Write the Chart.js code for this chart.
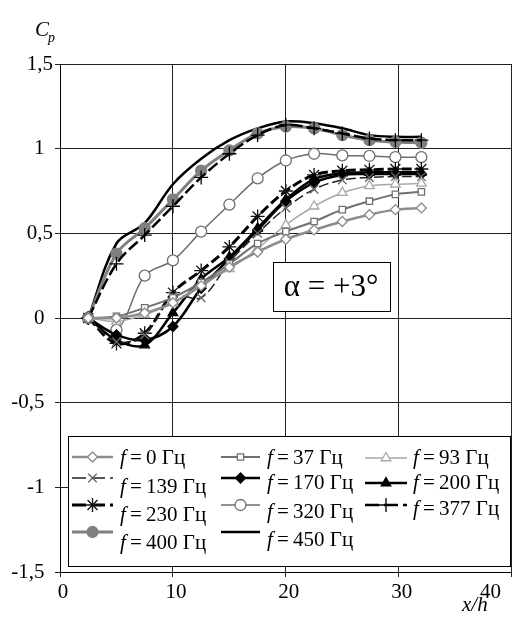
<!DOCTYPE html>
<html>
<head>
<meta charset="utf-8">
<script src="https://cdn.jsdelivr.net/npm/chart.js@4.4.1/dist/chart.umd.min.js"></script>
<style>
  html, body { margin: 0; padding: 0; background: #fff; overflow: hidden; }
  #wrap { width: 514px; height: 620px; overflow: hidden; position: relative; }
</style>
</head>
<body>
<div id="wrap"><canvas id="cpChart" width="520" height="620"></canvas></div>
<script>
// ===== DATA =====
const xPos = [2.5, 5, 7.5, 10, 12.5, 15, 17.5, 20, 22.5, 25, 27.4, 29.7, 32];
const xTicks = [0, 10, 20, 30, 40];
const yTicks = [-1.5, -1, -0.5, 0, 0.5, 1, 1.5];
const freqs = [0, 37, 93, 139, 170, 200, 230, 320, 377, 400, 450];

const cp0   = [0, 0.0, 0.03, 0.09, 0.19, 0.3, 0.39, 0.465, 0.52, 0.57, 0.61, 0.64, 0.65];
const cp37  = [0, 0.01, 0.06, 0.12, 0.21, 0.32, 0.44, 0.51, 0.57, 0.64, 0.69, 0.73, 0.745];
const cp93  = [0, -0.02, 0.02, 0.09, 0.2, 0.29, 0.41, 0.55, 0.66, 0.74, 0.78, 0.79, 0.795];
const cp139 = [0, -0.14, -0.1, 0.13, 0.12, 0.33, 0.5, 0.65, 0.76, 0.815, 0.83, 0.835, 0.835];
const cp170 = [0, -0.1, -0.13, -0.05, 0.175, 0.35, 0.52, 0.69, 0.8, 0.845, 0.85, 0.85, 0.85];
const cp200 = [0, -0.13, -0.16, 0.03, 0.23, 0.36, 0.53, 0.7, 0.82, 0.855, 0.86, 0.86, 0.86];
const cp230 = [0, -0.15, -0.09, 0.15, 0.28, 0.42, 0.6, 0.75, 0.845, 0.87, 0.875, 0.88, 0.88];
const cp320 = [0, -0.07, 0.25, 0.34, 0.51, 0.67, 0.825, 0.93, 0.97, 0.96, 0.957, 0.95, 0.95];
const cp377 = [0, 0.32, 0.49, 0.66, 0.83, 0.97, 1.08, 1.14, 1.12, 1.09, 1.06, 1.05, 1.05];
const cp400 = [0, 0.38, 0.53, 0.7, 0.87, 0.99, 1.09, 1.13, 1.12, 1.08, 1.05, 1.04, 1.035];
const cp450 = [0, 0.44, 0.56, 0.79, 0.94, 1.05, 1.12, 1.16, 1.15, 1.12, 1.08, 1.07, 1.07];

const SERIF = "'Liberation Serif', serif";

function pts(values) {
  return values.map((v, i) => ({ x: xPos[i], y: v }));
}

// style of each series: line colour, width, dash, marker
function series(values, freq, s) {
  return {
    label: "f=" + freq + " Гц",
    data: pts(values),
    borderColor: s.color,
    borderWidth: s.width,
    borderDash: s.dash || [],
    pointStyle: s.point || false,
    pointRadius: s.point ? s.radius : 0,
    pointBackgroundColor: s.fill || "#fff",
    pointBorderColor: s.pcolor || s.color,
    pointBorderWidth: s.pwidth || 1.3,
    tension: 0.35,
    fill: false
  };
}

const datasets = [
  series(cp0, freqs[0],   { color: "#8c8c8c", width: 2.5, point: "rectRot", radius: 5, fill: "#fff", pcolor: "#8c8c8c" }),
  series(cp37, freqs[1],  { color: "#707070", width: 2, point: "rect", radius: 4.5, fill: "#fff" }),
  series(cp93, freqs[2],  { color: "#a8a8a8", width: 1.5, point: "triangle", radius: 5.5, fill: "#fff" }),
  series(cp139, freqs[3], { color: "#222", width: 1.5, dash: [10, 4], point: "crossRot", radius: 6, pcolor: "#666" }),
  series(cp170, freqs[4], { color: "#000", width: 2.5, point: "rectRot", radius: 5, fill: "#000" }),
  series(cp200, freqs[5], { color: "#000", width: 2.5, point: "triangle", radius: 5.5, fill: "#000" }),
  series(cp230, freqs[6], { color: "#000", width: 3, dash: [10, 4], point: "star", radius: 7, pcolor: "#111" }),
  series(cp320, freqs[7], { color: "#6e6e6e", width: 1.5, point: "circle", radius: 5.5, fill: "#fff" }),
  series(cp377, freqs[8], { color: "#000", width: 2.5, dash: [12, 4], point: "cross", radius: 7, pcolor: "#000" }),
  series(cp400, freqs[9], { color: "#808080", width: 3, point: "circle", radius: 5.5, fill: "#808080" }),
  series(cp450, freqs[10],{ color: "#000", width: 2.5 })
];

// legend placement (col, sample y, text y) in the order of the datasets
const legendSpots = [
  [0, 457, 458], [1, 457, 458], [2, 458, 458],
  [0, 478, 487], [1, 478, 483], [2, 483, 483],
  [0, 505, 515], [1, 505, 512], [2, 505, 509],
  [0, 532, 543], [1, 532, 540]
];
const legendCols = [
  { x0: 72, x1: 113, text: 120 },
  { x0: 221, x1: 260, text: 267 },
  { x0: 365, x1: 407, text: 413 }
];

// ===== DRAWING EXTRAS =====
const extras = {
  id: "extras",
  afterDraw(chart) {
    const ctx = chart.ctx;
    const xs = chart.scales.x;
    ctx.save();
    ctx.fillStyle = "#000";

    // x tick labels
    ctx.font = "21px " + SERIF;
    ctx.textAlign = "center";
    ctx.textBaseline = "middle";
    xs.ticks.forEach(t => {
      const txt = String(t.value);
      const w = ctx.measureText(txt).width;
      let px = xs.getPixelForValue(t.value) + 3;
      px = Math.min(px, 501 - w / 2);
      ctx.fillText(txt, px, 592);
    });

    // axis titles
    ctx.textAlign = "left";
    ctx.textBaseline = "alphabetic";
    ctx.font = "italic 21px " + SERIF;
    ctx.fillText("C", 35, 36);
    ctx.font = "italic 14px " + SERIF;
    ctx.fillText("p", 48, 42);
    ctx.font = "italic 21px " + SERIF;
    ctx.fillText("x/h", 462, 611);

    // alpha box
    ctx.fillStyle = "#fff";
    ctx.fillRect(273.5, 262.5, 117, 49);
    ctx.strokeStyle = "#000";
    ctx.lineWidth = 1;
    ctx.strokeRect(273.5, 262.5, 117, 49);
    ctx.fillStyle = "#000";
    ctx.font = "31px " + SERIF;
    ctx.textAlign = "center";
    ctx.textBaseline = "middle";
    ctx.fillText("α = +3°", 331, 288);

    // legend box
    ctx.fillStyle = "#fff";
    ctx.fillRect(68.5, 436.5, 442, 130);
    ctx.strokeRect(68.5, 436.5, 442, 130);

    chart.data.datasets.forEach((ds, i) => {
      const [col, sy, ty] = legendSpots[i];
      const c = legendCols[col];
      ctx.save();
      ctx.strokeStyle = ds.borderColor;
      ctx.lineWidth = ds.borderWidth;
      ctx.setLineDash(ds.borderDash.length ? [14, 5] : []);
      ctx.beginPath();
      ctx.moveTo(c.x0, sy);
      ctx.lineTo(c.x1, sy);
      ctx.stroke();
      ctx.setLineDash([]);
      if (ds.pointStyle) {
        ctx.fillStyle = ds.pointBackgroundColor;
        ctx.strokeStyle = ds.pointBorderColor;
        ctx.lineWidth = ds.pointBorderWidth;
        Chart.helpers.drawPoint(ctx, {
          pointStyle: ds.pointStyle,
          radius: ds.pointRadius,
          rotation: 0,
          borderWidth: ds.pointBorderWidth
        }, (c.x0 + c.x1) / 2, sy);
      }
      ctx.restore();

      ctx.fillStyle = "#000";
      ctx.textAlign = "left";
      ctx.textBaseline = "middle";
      ctx.font = "italic 21px " + SERIF;
      ctx.fillText("f", c.text, ty);
      const fw = ctx.measureText("f").width;
      ctx.font = "21px " + SERIF;
      ctx.fillText("\u2009=\u2009" + freqs[i] + " Гц", c.text + fw, ty);
    });

    ctx.restore();
  }
};

// ===== CHART =====
new Chart(document.getElementById("cpChart"), {
  type: "line",
  data: { datasets: datasets },
  plugins: [extras],
  options: {
    responsive: false,
    animation: false,
    layout: { padding: { left: 0, top: 64, right: 4, bottom: 0 } },
    plugins: {
      legend: { display: false },
      tooltip: { enabled: false }
    },
    scales: {
      x: {
        type: "linear",
        min: xTicks[0],
        max: xTicks[xTicks.length - 1],
        afterBuildTicks: s => { s.ticks = xTicks.map(v => ({ value: v })); },
        afterFit: s => { s.height = 48; },
        ticks: { display: false },
        grid: { color: "#222", lineWidth: 1, tickLength: 5, drawTicks: true },
        border: { color: "#000", width: 1 }
      },
      y: {
        type: "linear",
        min: yTicks[0],
        max: yTicks[yTicks.length - 1],
        afterBuildTicks: s => { s.ticks = yTicks.map(v => ({ value: v })); },
        afterFit: s => { s.width = 60; },
        ticks: {
          color: "#000",
          padding: 2,
          font: { family: SERIF, size: 21 },
          callback: v => {
            const txt = String(v).replace(".", ",");
            return (v === 1.5 || v === 0.5) ? txt : txt + "\u2009\u2009";
          }
        },
        grid: { color: "#222", lineWidth: 1, tickLength: 5, drawTicks: true },
        border: { color: "#000", width: 1 }
      }
    }
  }
});
</script>
</body>
</html>
